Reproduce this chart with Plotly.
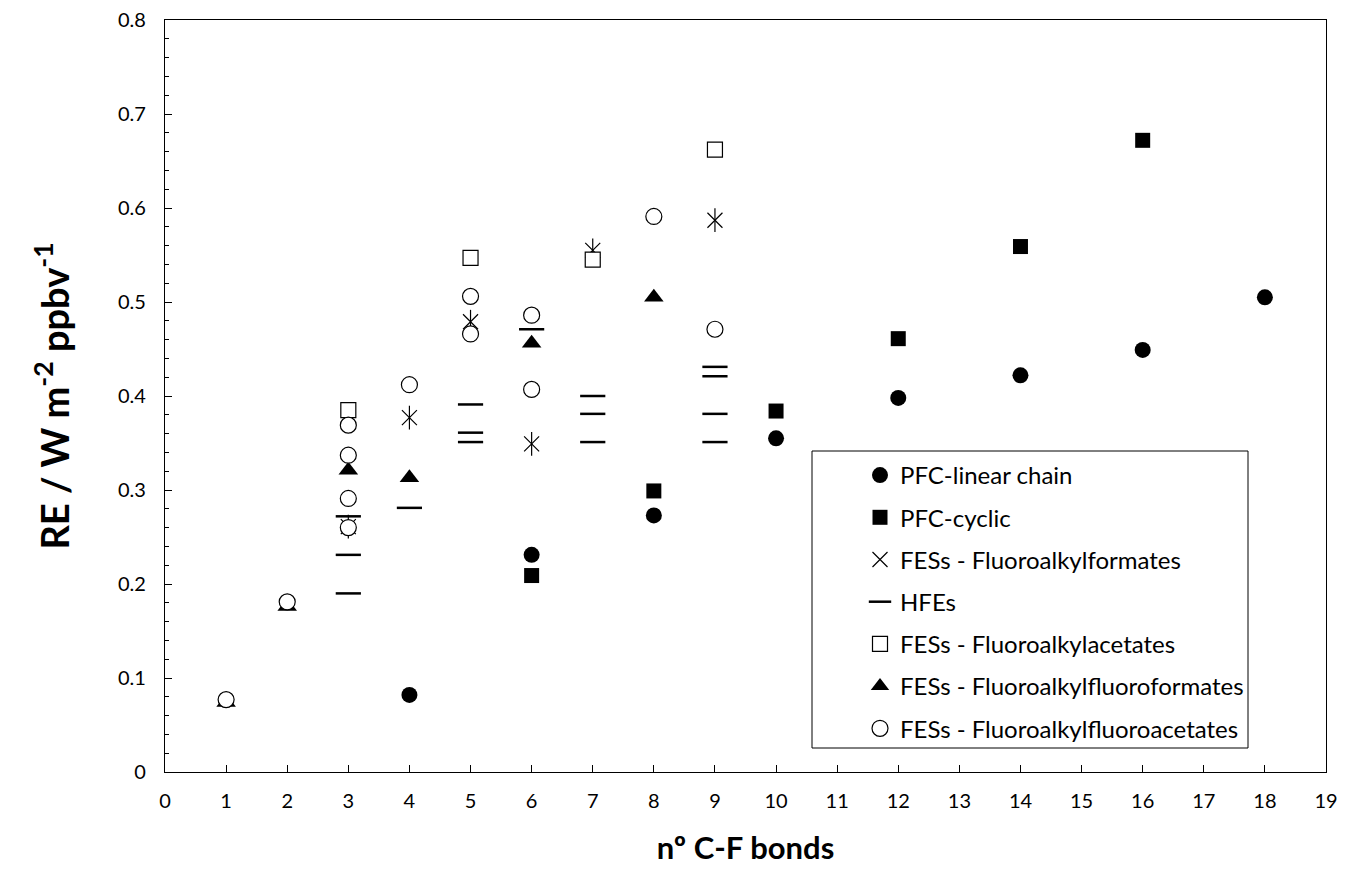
import plotly.graph_objects as go

# ---- data ----
x_linear = [4, 6, 8, 10, 12, 14, 16, 18]
y_linear = [0.082, 0.231, 0.273, 0.355, 0.398, 0.422, 0.449, 0.505]

x_cyclic = [6, 8, 10, 12, 14, 16]
y_cyclic = [0.209, 0.299, 0.384, 0.461, 0.559, 0.672]

x_formates = [3, 4, 5, 6, 7, 9]
y_formates = [0.261, 0.377, 0.479, 0.349, 0.555, 0.587]

x_hfe = [3, 3, 3, 4, 5, 5, 5, 6, 7, 7, 7, 9, 9, 9, 9]
y_hfe = [0.272, 0.231, 0.190, 0.281, 0.391, 0.361, 0.351, 0.471,
         0.400, 0.381, 0.351, 0.431, 0.421, 0.381, 0.351]

x_acetates = [3, 5, 7, 9]
y_acetates = [0.385, 0.547, 0.545, 0.662]

x_fluoroformates = [1, 2, 3, 4, 6, 8]
y_fluoroformates = [0.074, 0.176, 0.321, 0.313, 0.456, 0.505]

x_fluoroacetates = [1, 2, 3, 3, 3, 3, 4, 5, 5, 6, 6, 8, 9]
y_fluoroacetates = [0.077, 0.181, 0.369, 0.337, 0.291, 0.260, 0.412,
                    0.506, 0.466, 0.486, 0.407, 0.591, 0.471]

names = ["PFC-linear chain", "PFC-cyclic", "FESs - Fluoroalkylformates", "HFEs",
         "FESs - Fluoroalkylacetates", "FESs - Fluoroalkylfluoroformates",
         "FESs - Fluoroalkylfluoroacetates"]

FONT = "Lato, Carlito, Calibri, 'Open Sans', sans-serif"

fig = go.Figure()

def add(x, y, name, symbol, size, color, lcolor="black", lw=0, group=None, showlegend=True):
    fig.add_trace(go.Scatter(
        x=x, y=y, mode="markers", name=name,
        legendgroup=group or name, showlegend=showlegend,
        marker=dict(symbol=symbol, size=size, color=color,
                    line=dict(color=lcolor, width=lw)),
    ))

add(x_linear, y_linear, names[0], "circle", 16, "black")
add(x_cyclic, y_cyclic, names[1], "square", 15, "black")
add(x_formates, y_formates, names[2], "x-thin-open", 15, "black", "black", 1.2)
add(x_formates, y_formates, names[2], "line-ns-open", 17, "black", "black", 1.2,
    group=names[2], showlegend=False)
add(x_hfe, y_hfe, names[3], "line-ew-open", 18, "black", "black", 2.5)
add(x_acetates, y_acetates, names[4], "square", 15, "white", "black", 1.2)
add(x_fluoroformates, y_fluoroformates, names[5], "triangle-up", 17, "black")
add(x_fluoroacetates, y_fluoroacetates, names[6], "circle", 16, "white", "black", 1.2)

OFF = 8  # page body margin
W, H = 1329, 876
L, R, T, B = 157, 11, 12, 112
pw, ph = W - L - R, H - T - B

def px(xs):
    return (xs - OFF - L) / pw

def py(ys):
    return (H - B - (ys - OFF)) / ph

fig.update_layout(
    width=W, height=H,
    margin=dict(l=L, r=R, t=T, b=B, autoexpand=False),
    plot_bgcolor="white", paper_bgcolor="white",
    font=dict(family=FONT, size=20, color="black"),
    showlegend=True,
    legend=dict(
        x=px(860), y=py(453), xanchor="left", yanchor="top",
        bgcolor="rgba(0,0,0,0)", borderwidth=0,
        font=dict(family=FONT, size=24, color="black"),
        traceorder="grouped", tracegroupgap=8,
    ),
    shapes=[dict(type="rect", xref="paper", yref="paper",
                 x0=px(812), x1=px(1248), y0=py(748), y1=py(451),
                 line=dict(color="black", width=1), layer="below")],
)

fig.update_xaxes(
    range=[0, 19], dtick=1, tick0=0, automargin=False,
    showline=True, linecolor="black", linewidth=1.3, mirror=True,
    ticks="inside", ticklen=7, tickcolor="black", tickwidth=1,
    showgrid=False, zeroline=False,
    ticklabelstandoff=11, ticklabeloverflow="allow",
    tickfont=dict(family=FONT, size=20),
    title=dict(text="<b>nº C-F bonds</b>", font=dict(family=FONT, size=31), standoff=26),
)
fig.update_yaxes(
    range=[0, 0.8], dtick=0.1, tick0=0, automargin=False,
    showline=True, linecolor="black", linewidth=1.3, mirror=True,
    ticks="inside", ticklen=7, tickcolor="black", tickwidth=1,
    minor=dict(dtick=0.02, ticks="inside", ticklen=4, tickcolor="black", showgrid=False),
    showgrid=False, zeroline=False,
    ticklabelstandoff=14, ticklabeloverflow="allow",
    tickfont=dict(family=FONT, size=20),
    title=dict(text="<b>RE / W m<sup>-2</sup> ppbv<sup>-1</sup></b>",
               font=dict(family=FONT, size=38), standoff=36),
)

fig.write_html("out.html")
